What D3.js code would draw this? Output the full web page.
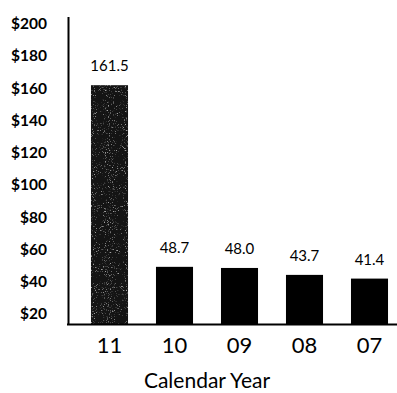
<!DOCTYPE html>
<html>
<head>
<meta charset="utf-8">
<script src="https://cdn.jsdelivr.net/npm/d3@7"></script>
<style>
  html, body { margin: 0; padding: 0; background: #fff; }
  svg { display: block; }
  text { font-family: Lato, "Open Sans", sans-serif; fill: #000; }
</style>
</head>
<body>
<svg id="chart" width="397" height="393"></svg>
<script>
// Calendar-year totals, most recent first
const years = ["11", "10", "09", "08", "07"];
const values = [161.5, 48.7, 48.0, 43.7, 41.4];
const valueLabels = ["161.5", "48.7", "48.0", "43.7", "41.4"];
const yTicks = [20, 40, 60, 80, 100, 120, 140, 160, 180, 200];
const xTitle = "Calendar Year";

const svg = d3.select("#chart");

const x = d3.scaleBand()
  .domain(years)
  .range([77, 402])
  .paddingInner(0.43)
  .paddingOuter(0.215);

const y = d3.scaleLinear()
  .domain([13.2, 200])
  .range([324, 23.2]);

// speckled texture for the current-year bar
const defs = svg.append("defs");
const f = defs.append("filter").attr("id", "speckle")
  .attr("x", 0).attr("y", 0).attr("width", 1).attr("height", 1);
f.append("feTurbulence").attr("type", "fractalNoise")
  .attr("baseFrequency", 0.95).attr("numOctaves", 2).attr("seed", 4).attr("result", "n");
f.append("feColorMatrix").attr("in", "n").attr("type", "matrix")
  .attr("values", "0 0 0 0 1  0 0 0 0 1  0 0 0 0 1  5 0 0 0 -3.0")
  .attr("result", "dots");
f.append("feComposite").attr("in", "dots").attr("in2", "SourceGraphic").attr("operator", "in");

const bars = svg.append("g");
bars.selectAll("rect.bar")
  .data(years)
  .join("rect")
  .attr("class", "bar")
  .attr("x", d => x(d))
  .attr("width", x.bandwidth())
  .attr("y", (d, i) => y(values[i]))
  .attr("height", (d, i) => y.range()[0] - y(values[i]))
  .attr("fill", (d, i) => i === 0 ? "#141414" : "#000");

// overlay speckles on the first bar
bars.append("rect")
  .attr("x", x(years[0]))
  .attr("width", x.bandwidth())
  .attr("y", y(values[0]))
  .attr("height", y.range()[0] - y(values[0]))
  .attr("fill", "#000")
  .attr("opacity", 0.6)
  .attr("filter", "url(#speckle)");

// value labels above bars
svg.append("g").selectAll("text")
  .data(years)
  .join("text")
  .attr("x", d => x(d) + x.bandwidth() / 2)
  .attr("y", (d, i) => y(values[i]) - 14)
  .attr("text-anchor", "middle")
  .attr("font-size", 15)
  .text((d, i) => valueLabels[i]);

// y axis: labels only, plus a plain vertical rule
const yAxis = d3.axisLeft(y)
  .tickValues(yTicks)
  .tickSize(0)
  .tickPadding(0)
  .tickFormat(d => "$" + d);
const yg = svg.append("g").attr("transform", "translate(47,0)").call(yAxis);
yg.select(".domain").remove();
yg.selectAll("text")
  .attr("font-size", 15.5)
  .attr("font-weight", 700)
  .style("font-family", "Lato, 'Open Sans', sans-serif")
  .attr("dy", "0.36em");

svg.append("line")
  .attr("x1", 68.5).attr("x2", 68.5)
  .attr("y1", 17).attr("y2", 325)
  .attr("stroke", "#000").attr("stroke-width", 2);

svg.append("line")
  .attr("x1", 67).attr("x2", 397)
  .attr("y1", 324.5).attr("y2", 324.5)
  .attr("stroke", "#000").attr("stroke-width", 2);

// x axis labels
const xAxis = d3.axisBottom(x).tickSize(0).tickPadding(0);
const xg = svg.append("g").attr("transform", "translate(0,345)").call(xAxis);
xg.select(".domain").remove();
xg.selectAll("text")
  .attr("font-size", 22)
  .style("font-family", "Lato, 'Open Sans', sans-serif")
  .attr("y", 0)
  .attr("dy", "0.36em");

svg.append("text")
  .attr("x", 207)
  .attr("y", 380)
  .attr("dy", "0.36em")
  .attr("text-anchor", "middle")
  .attr("font-size", 21)
  .text(xTitle);
</script>
</body>
</html>
